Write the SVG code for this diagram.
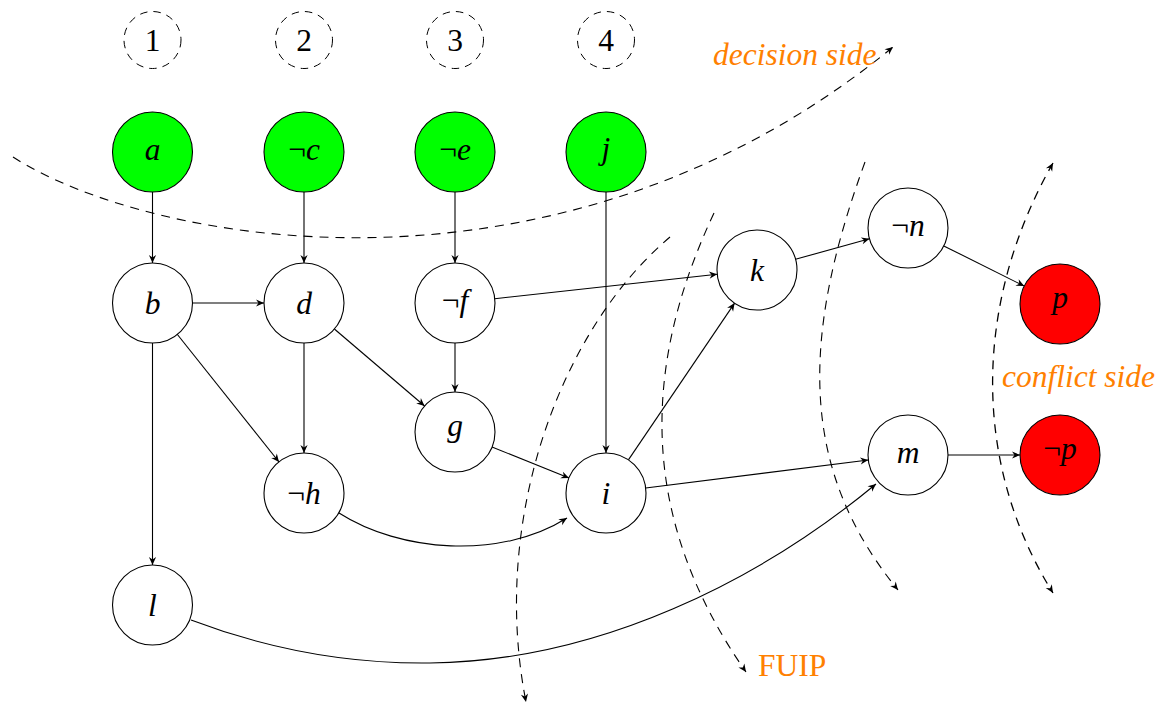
<svg xmlns="http://www.w3.org/2000/svg" width="1161" height="704" viewBox="0 0 1161 704">
  <style>
    text { font-family: 'Liberation Serif', 'DejaVu Serif', serif; }
    .node circle { stroke: #000; stroke-width: 1.1; fill: #fff; }
    .node.decided circle { fill: #00ff00; }
    .node.conflict circle { fill: #ff0000; }
    .node text { font-style: italic; font-size: 31.5px; text-anchor: middle; fill: #000; }
    .neg { font-style: normal; }
    .level circle { fill: none; stroke: #000; stroke-width: 1; stroke-dasharray: 7.5 6; }
    .level text { font-size: 31.5px; text-anchor: middle; fill: #000; }
    .edge { fill: none; stroke: #000; stroke-width: 1.1; marker-end: url(#tip); }
    .cut { fill: none; stroke: #000; stroke-width: 1.1; stroke-dasharray: 9 7; marker-end: url(#tip); }
    .label { font-size: 31.5px; fill: #ff8000; }
  </style>
  <defs>
    <marker id="tip" markerUnits="userSpaceOnUse" markerWidth="12" markerHeight="10" viewBox="-8 -5 9 10" refX="0" refY="0" orient="auto">
      <path d="M0,0 L-8,-3.6 L-5.5,0 L-8,3.6 Z" fill="#000"/>
    </marker>
    <marker id="tipStart" markerUnits="userSpaceOnUse" markerWidth="12" markerHeight="10" viewBox="-8 -5 9 10" refX="0" refY="0" orient="auto-start-reverse">
      <path d="M0,0 L-8,-3.6 L-5.5,0 L-8,3.6 Z" fill="#000"/>
    </marker>
  </defs>

  <!-- decision levels -->
  <g id="level1" class="level"><circle cx="152.5" cy="40" r="28.5"/><text x="152.5" y="50.5" font-family="Liberation Serif">1</text></g>
  <g id="level2" class="level"><circle cx="304" cy="40" r="28.5"/><text x="304" y="50.5" font-family="Liberation Serif">2</text></g>
  <g id="level3" class="level"><circle cx="455" cy="40" r="28.5"/><text x="455" y="50.5" font-family="Liberation Serif">3</text></g>
  <g id="level4" class="level"><circle cx="606" cy="40" r="28.5"/><text x="606" y="50.5" font-family="Liberation Serif">4</text></g>

  <!-- implication edges and cuts -->
  <g id="connectors">
    <path class="edge" d="M152.5,192 L152.5,263"/>
    <path class="edge" d="M304,192 L304,263"/>
    <path class="edge" d="M455,192 L455,263"/>
    <path class="edge" d="M606,192 L606,453"/>
    <path class="edge" d="M192,303 L264,303"/>
    <path class="edge" d="M177,334 L279,462"/>
    <path class="edge" d="M152.5,343 L152.5,565"/>
    <path class="edge" d="M304,343 L304,453"/>
    <path class="edge" d="M334.4,329 L424.6,406"/>
    <path class="edge" d="M455,343 L455,392"/>
    <path class="edge" d="M494.8,298.7 L717.2,274.3"/>
    <path class="edge" d="M492,447 L569,478"/>
    <path class="edge" d="M628.4,459.9 L734.6,303.1"/>
    <path class="edge" d="M645.7,488 L868.3,460"/>
    <path class="edge" d="M795.5,259.3 L869.5,238.7"/>
    <path class="edge" d="M943.8,245.9 L1024.2,286.1"/>
    <path class="edge" d="M948,455 L1020,455"/>
    <path class="edge" d="M339,513 C400,552 500,560 567,518"/>
    <path class="edge" d="M191,620 C270,650 350,664 430,663 C600,661 760,580 876,484"/>

    <path class="cut" d="M13,157 C150,245 560,320 893,47"/>
    <path class="cut" d="M670,237 C560,330 490,520 526,702"/>
    <path class="cut" d="M714,213 C640,370 640,520 746,672"/>
    <path class="cut" d="M865,162 C800,340 800,470 898,590"/>
    <path class="cut" style="marker-start: url(#tipStart); stroke-width: 1.3" d="M1053,163 C975,300 970,460 1053,593"/>
  </g>

  <!-- decisions -->
  <g id="a" class="node decided"><circle cx="152.5" cy="152" r="40"/><text x="152.5" y="160" font-family="Liberation Serif">a</text></g>
  <g id="not_c" class="node decided"><circle cx="304" cy="152" r="40"/><text x="304" y="160" font-family="Liberation Serif"><tspan class="neg">¬</tspan>c</text></g>
  <g id="not_e" class="node decided"><circle cx="455" cy="152" r="40"/><text x="455" y="160" font-family="Liberation Serif"><tspan class="neg">¬</tspan>e</text></g>
  <g id="j" class="node decided"><circle cx="606" cy="152" r="40"/><text x="606" y="159" font-family="Liberation Serif">j</text></g>

  <!-- implied literals -->
  <g id="b" class="node"><circle cx="152.5" cy="303" r="40"/><text x="152.5" y="314" font-family="Liberation Serif">b</text></g>
  <g id="d" class="node"><circle cx="304" cy="303" r="40"/><text x="304" y="314" font-family="Liberation Serif">d</text></g>
  <g id="not_f" class="node"><circle cx="455" cy="303" r="40"/><text x="455" y="310.5" font-family="Liberation Serif"><tspan class="neg">¬</tspan>f</text></g>
  <g id="k" class="node"><circle cx="757" cy="270" r="40"/><text x="757" y="281" font-family="Liberation Serif">k</text></g>
  <g id="not_n" class="node"><circle cx="908" cy="228" r="40"/><text x="908" y="236" font-family="Liberation Serif"><tspan class="neg">¬</tspan>n</text></g>
  <g id="g" class="node"><circle cx="455" cy="432" r="40"/><text x="455" y="436" font-family="Liberation Serif">g</text></g>
  <g id="not_h" class="node"><circle cx="304" cy="493" r="40"/><text x="304" y="504" font-family="Liberation Serif"><tspan class="neg">¬</tspan>h</text></g>
  <g id="i" class="node"><circle cx="606" cy="493" r="40"/><text x="606" y="503.5" font-family="Liberation Serif">i</text></g>
  <g id="m" class="node"><circle cx="908" cy="455" r="40"/><text x="908" y="463" font-family="Liberation Serif">m</text></g>
  <g id="l" class="node"><circle cx="152.5" cy="605" r="40"/><text x="152.5" y="616" font-family="Liberation Serif">l</text></g>

  <!-- conflict -->
  <g id="p" class="node conflict"><circle cx="1060" cy="304" r="40"/><text x="1060" y="307.5" font-family="Liberation Serif">p</text></g>
  <g id="not_p" class="node conflict"><circle cx="1060" cy="455" r="40"/><text x="1060" y="458.5" font-family="Liberation Serif"><tspan class="neg">¬</tspan>p</text></g>

  <!-- cut labels -->
  <text class="label" x="713" y="65" font-style="italic" font-family="Liberation Serif">decision side</text>
  <text class="label" x="1002" y="387" font-style="italic" font-family="Liberation Serif">conflict side</text>
  <text class="label" x="758" y="676" font-family="Liberation Serif">FUIP</text>
</svg>
